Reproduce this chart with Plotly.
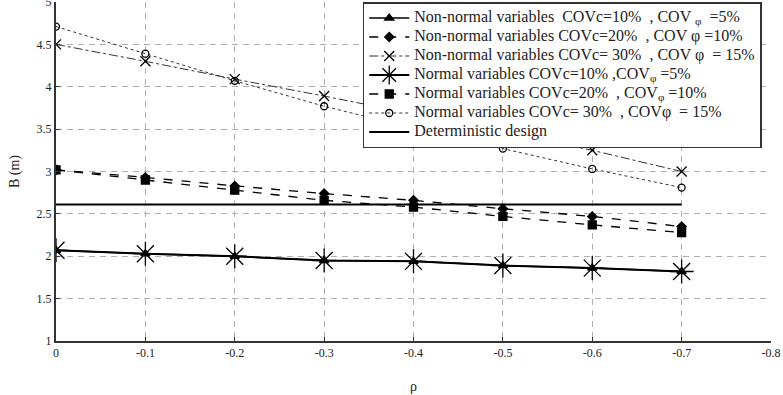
import plotly.graph_objects as go

rho = [0, -0.1, -0.2, -0.3, -0.4, -0.5, -0.6, -0.7]

nn10 = [2.07, 2.03, 2.00, 1.95, 1.94, 1.89, 1.86, 1.82]
nn20 = [3.02, 2.93, 2.83, 2.74, 2.66, 2.56, 2.47, 2.35]
nn30 = [4.50, 4.30, 4.09, 3.89, 3.68, 3.47, 3.25, 3.00]
n10 = [2.07, 2.03, 2.00, 1.95, 1.94, 1.89, 1.86, 1.82]
n20 = [3.02, 2.90, 2.78, 2.66, 2.58, 2.47, 2.37, 2.28]
n30 = [4.71, 4.39, 4.07, 3.77, 3.51, 3.27, 3.03, 2.81]
det = [2.61] * len(rho)

x_ticks = [0, -0.1, -0.2, -0.3, -0.4, -0.5, -0.6, -0.7, -0.8]
x_labels = ["0", "-0.1", "-0.2", "-0.3", "-0.4", "-0.5", "-0.6", "-0.7", "-0.8"]
y_ticks = [1, 1.5, 2, 2.5, 3, 3.5, 4, 4.5, 5]
y_labels = ["1", "1.5", "2", "2.5", "3", "3.5", "4", "4.5", "5"]

names = [
    "Non-normal variables  COVc=10%  , COV <sub>φ</sub>  =5%",
    "Non-normal variables COVc=20%  , COV φ =10%",
    "Non-normal variables COVc= 30%  , COV φ  = 15%",
    "Normal variables COVc=10% ,COV<sub>φ</sub> =5%",
    "Normal variables COVc=20%  , COV<sub>φ</sub> =10%",
    "Normal variables COVc= 30%  , COVφ  = 15%",
    "Deterministic design",
]

FONT = "Liberation Serif"


def big(s):
    return '<span style="font-size:16px">' + s + '</span>'


fig = go.Figure()

specs = [
    (nn10, "solid", 1.5, "triangle-up", 8, "black"),
    (nn20, "dash", 1.3, "diamond", 7, "black"),
    (nn30, "dashdot", 1.0, "x-thin-open", 10, "#333"),
    (n10, "solid", 2.0, "asterisk-open", 20, "black"),
    (n20, "dash", 1.3, "square", 8, "black"),
    (n30, "dot", 1.0, "circle-open", 7, "#333"),
]

for (vals, dash, w, sym, sz, col), nm in zip(specs, names[:6]):
    fig.add_trace(go.Scatter(
        x=rho, y=vals, name=big(nm), mode="lines+markers",
        line=dict(color=col, dash=dash, width=w),
        marker=dict(symbol=sym, size=sz, color="black",
                    line=dict(color="black", width=1.3)),
    ))

fig.add_trace(go.Scatter(
    x=rho, y=det, name=big(names[6]), mode="lines",
    line=dict(color="black", width=2),
))

fig.update_layout(
    width=783, height=395,
    margin=dict(l=56, r=12, t=2, b=54, autoexpand=False),
    paper_bgcolor="white", plot_bgcolor="white",
    font=dict(family=FONT, size=12, color="#222"),
    showlegend=True,
    legend=dict(
        x=0.429, y=1.0, xanchor="left", yanchor="top",
        bordercolor="#333", borderwidth=1.5, bgcolor="white",
        font=dict(family=FONT, size=10, color="#222"),
        tracegroupgap=0, itemwidth=40,
    ),
    xaxis=dict(
        range=[0, -0.8], tickvals=x_ticks, ticktext=x_labels,
        showgrid=True, gridcolor="#b0b0b0", griddash="6px,5px", gridwidth=1,
        showline=True, linecolor="#333", linewidth=2, zeroline=False,
        ticks="inside", ticklen=4, tickcolor="#333", automargin=False,
        tickfont=dict(family=FONT, size=12),
        title=dict(text="ρ", font=dict(family=FONT, size=14), standoff=22),
    ),
    yaxis=dict(
        range=[1, 5], tickvals=y_ticks, ticktext=y_labels,
        showgrid=True, gridcolor="#b0b0b0", griddash="6px,5px", gridwidth=1,
        showline=True, linecolor="#333", linewidth=2, zeroline=False,
        ticks="inside", ticklen=4, tickcolor="#333", automargin=False,
        ticklabeloverflow="allow",
        tickfont=dict(family=FONT, size=12),
        title=dict(text="B (m)", font=dict(family=FONT, size=14), standoff=14),
    ),
)

fig.write_html("out.html")
